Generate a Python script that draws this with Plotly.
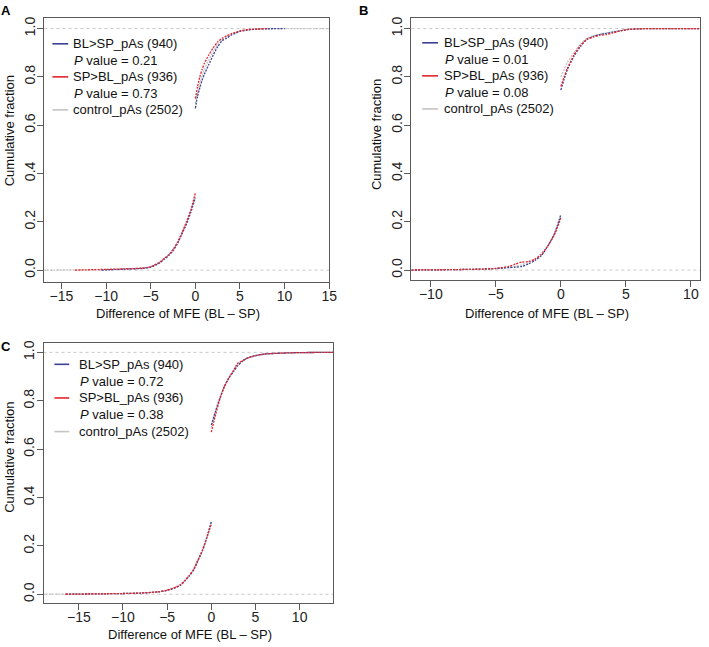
import plotly.graph_objects as go

W, H = 709, 647

# ---------------- DATA ----------------
# Panel A
A_blue_neg_x = [-10.5, -8, -6, -5, -4, -3.5, -3, -2.5, -2, -1.5, -1, -0.5, 0]
A_blue_neg_y = [0.0, 0.004, 0.007, 0.012, 0.03, 0.045, 0.06, 0.08, 0.11, 0.15, 0.19, 0.24, 0.30]
A_red_neg_x = [-13.5, -10, -8, -6, -5, -4, -3.5, -3, -2.5, -2, -1.5, -1, -0.5, 0]
A_red_neg_y = [0.0, 0.003, 0.005, 0.008, 0.014, 0.033, 0.048, 0.063, 0.085, 0.115, 0.155, 0.2, 0.25, 0.32]
A_ctrl_neg_x = [-17, -10, -8, -6, -5, -4, -3, -2, -1, -0.5, 0]
A_ctrl_neg_y = [0.0, 0.002, 0.004, 0.008, 0.013, 0.03, 0.062, 0.115, 0.195, 0.245, 0.31]
A_blue_pos_x = [0, 0.25, 0.5, 0.75, 1, 1.5, 2, 2.5, 3, 3.5, 4, 5, 6, 7, 8, 10]
A_blue_pos_y = [0.67, 0.72, 0.755, 0.785, 0.81, 0.85, 0.89, 0.925, 0.95, 0.96, 0.972, 0.988, 0.995, 0.998, 0.999, 1.0]
A_red_pos_x = [0, 0.25, 0.5, 0.75, 1, 1.5, 2, 2.5, 3, 3.5, 4, 5, 6, 7, 8]
A_red_pos_y = [0.71, 0.76, 0.80, 0.83, 0.855, 0.89, 0.92, 0.945, 0.96, 0.97, 0.978, 0.99, 0.996, 0.998, 1.0]
A_ctrl_pos_x = [0, 0.5, 1, 1.5, 2, 2.5, 3, 4, 5, 6, 8, 15]
A_ctrl_pos_y = [0.69, 0.775, 0.83, 0.87, 0.905, 0.935, 0.955, 0.975, 0.99, 0.996, 0.999, 1.0]

# Panel B
B_blue_neg_x = [-11.5, -8, -6, -5, -4, -3.5, -3, -2.5, -2, -1.5, -1, -0.5, 0]
B_blue_neg_y = [0.0, 0.002, 0.004, 0.006, 0.01, 0.012, 0.015, 0.025, 0.04, 0.06, 0.1, 0.15, 0.23]
B_red_neg_x = [-11.5, -8, -6, -5, -4, -3.5, -3, -2.5, -2, -1.5, -1, -0.5, 0]
B_red_neg_y = [0.0, 0.002, 0.004, 0.007, 0.015, 0.025, 0.033, 0.035, 0.045, 0.065, 0.1, 0.145, 0.215]
B_ctrl_neg_x = [-11.5, -8, -6, -5, -4, -3, -2, -1, -0.5, 0]
B_ctrl_neg_y = [0.0, 0.002, 0.004, 0.007, 0.012, 0.022, 0.045, 0.1, 0.15, 0.22]
B_blue_pos_x = [0, 0.25, 0.5, 1, 1.5, 2, 2.5, 3, 3.5, 4, 5, 6, 8, 11]
B_blue_pos_y = [0.745, 0.79, 0.83, 0.885, 0.925, 0.955, 0.968, 0.975, 0.98, 0.985, 0.995, 0.999, 1.0, 1.0]
B_red_pos_x = [0, 0.25, 0.5, 1, 1.5, 2, 2.5, 3, 3.5, 4, 5, 6, 8, 11]
B_red_pos_y = [0.76, 0.80, 0.835, 0.89, 0.93, 0.955, 0.965, 0.972, 0.975, 0.982, 0.995, 0.999, 1.0, 1.0]
B_ctrl_pos_x = [0, 0.25, 0.5, 1, 1.5, 2, 2.5, 3, 3.5, 4, 5, 6, 8, 11]
B_ctrl_pos_y = [0.80, 0.83, 0.86, 0.90, 0.935, 0.96, 0.97, 0.977, 0.982, 0.987, 0.996, 0.999, 1.0, 1.0]

# Panel C
C_blue_neg_x = [-16.5, -12, -10, -8, -6, -5, -4, -3.5, -3, -2.5, -2, -1.5, -1, -0.5, 0]
C_blue_neg_y = [0.0, 0.002, 0.003, 0.005, 0.01, 0.016, 0.028, 0.037, 0.055, 0.075, 0.1, 0.14, 0.18, 0.235, 0.30]
C_red_neg_x = [-16.5, -12, -10, -8, -6, -5, -4, -3.5, -3, -2.5, -2, -1.5, -1, -0.5, 0]
C_red_neg_y = [0.0, 0.002, 0.003, 0.005, 0.01, 0.017, 0.03, 0.039, 0.057, 0.078, 0.104, 0.143, 0.183, 0.235, 0.29]
C_ctrl_neg_x = [-19.5, -12, -10, -8, -6, -5, -4, -3, -2, -1, -0.5, 0]
C_ctrl_neg_y = [0.0, 0.002, 0.003, 0.005, 0.01, 0.016, 0.029, 0.056, 0.101, 0.182, 0.236, 0.30]
C_blue_pos_x = [0, 0.5, 1, 1.5, 2, 2.5, 3, 3.5, 4, 5, 6, 8, 10, 14]
C_blue_pos_y = [0.70, 0.76, 0.815, 0.86, 0.895, 0.92, 0.945, 0.962, 0.975, 0.987, 0.993, 0.997, 0.999, 1.0]
C_red_pos_x = [0, 0.5, 1, 1.5, 2, 2.5, 3, 3.5, 4, 5, 6, 8, 10, 14]
C_red_pos_y = [0.67, 0.745, 0.81, 0.86, 0.895, 0.925, 0.955, 0.965, 0.975, 0.986, 0.993, 0.997, 0.999, 1.0]
C_ctrl_pos_x = [0, 0.5, 1, 1.5, 2, 2.5, 3, 3.5, 4, 5, 6, 8, 10, 14]
C_ctrl_pos_y = [0.69, 0.755, 0.812, 0.86, 0.895, 0.922, 0.95, 0.963, 0.975, 0.986, 0.993, 0.997, 0.999, 1.0]

series_names = ["BL>SP_pAs (940)", "SP>BL_pAs (936)", "control_pAs (2502)"]
p_values = {"A": ["0.21", "0.73"], "B": ["0.01", "0.08"], "C": ["0.72", "0.38"]}
x_ticks = {"A": [-15, -10, -5, 0, 5, 10, 15], "B": [-10, -5, 0, 5, 10], "C": [-15, -10, -5, 0, 5, 10]}
y_ticks = [0, 0.2, 0.4, 0.6, 0.8, 1.0]
y_ticklabels = ["0.0", "0.2", "0.4", "0.6", "0.8", "1.0"]

# ---------------- STYLE ----------------
BLUE = "#3b4296"
RED = "#e3262b"
GRAY = "#c4c4c4"
FRAME = "#5a5a5a"
FONT = "Liberation Sans, Arial, Helvetica, sans-serif"
DOT = "2px,1.2px"
TICK_FS = 14
LEG_FS = 13
TITLE_FS = 13

def px_x(p):
    return p / W

def px_y(p):
    return 1 - p / H

panels = {
    # key: (x axis name, y axis name, box px (l, r, t, b), x range, y range)
    "A": ("x", "y", (45, 333, 15, 280), [-16.9, 15.0], [-0.048, 1.044]),
    "B": ("x2", "y2", (416, 708, 15, 278), [-11.5, 10.7], [-0.04, 1.044]),
    "C": ("x3", "y3", (44, 337, 342, 603), [-19.0, 13.8], [-0.037, 1.037]),
}

data = {
    "A": [(A_ctrl_neg_x, A_ctrl_neg_y, A_ctrl_pos_x, A_ctrl_pos_y, GRAY),
          (A_blue_neg_x, A_blue_neg_y, A_blue_pos_x, A_blue_pos_y, BLUE),
          (A_red_neg_x, A_red_neg_y, A_red_pos_x, A_red_pos_y, RED)],
    "B": [(B_ctrl_neg_x, B_ctrl_neg_y, B_ctrl_pos_x, B_ctrl_pos_y, GRAY),
          (B_blue_neg_x, B_blue_neg_y, B_blue_pos_x, B_blue_pos_y, BLUE),
          (B_red_neg_x, B_red_neg_y, B_red_pos_x, B_red_pos_y, RED)],
    "C": [(C_ctrl_neg_x, C_ctrl_neg_y, C_ctrl_pos_x, C_ctrl_pos_y, GRAY),
          (C_blue_neg_x, C_blue_neg_y, C_blue_pos_x, C_blue_pos_y, BLUE),
          (C_red_neg_x, C_red_neg_y, C_red_pos_x, C_red_pos_y, RED)],
}

fig = go.Figure()
layout_axes = {}
shapes = []
annotations = []

for key, (xa, ya, (l, r, t, b), xr, yr) in panels.items():
    xkey = "xaxis" + xa[1:]
    ykey = "yaxis" + ya[1:]
    common = dict(showline=True, mirror=True, linecolor=FRAME, linewidth=1,
                  ticks="outside", ticklen=6, tickcolor=FRAME, tickwidth=1,
                  showgrid=False, zeroline=False,
                  tickfont=dict(family=FONT, size=TICK_FS, color="#222"))
    layout_axes[xkey] = dict(common, domain=[px_x(l), px_x(r)], range=xr,
                             tickvals=x_ticks[key], anchor=ya, ticklabelstandoff=-5)
    layout_axes[ykey] = dict(common, domain=[px_y(b), px_y(t)], range=yr,
                             tickvals=y_ticks, ticktext=y_ticklabels,
                             tickangle=-90, anchor=xa, ticklabelstandoff=-3)
    # dashed 0 and 1 reference lines (gray70, lty 2)
    for yv in (0, 1):
        shapes.append(dict(type="line", xref=f"{xa} domain", yref=ya,
                           x0=0, x1=1, y0=yv, y1=yv,
                           line=dict(color="#c8c8c8", width=1, dash="3px,3px"), layer="below"))
    for nx, ny, qx, qy, col in data[key]:
        for xs, ys in ((nx, ny), (qx, qy)):
            fig.add_trace(go.Scatter(x=xs, y=ys, mode="lines", xaxis=xa, yaxis=ya,
                                     line=dict(color=col, width=1.3, dash=DOT, shape="spline", smoothing=0.6),
                                     showlegend=False, hoverinfo="skip", cliponaxis=True))

# legends inside panels: (line x0, line x1, text x, first row y, row step) in px
legend_px = {
    "A": (53, 69, 72, 41, 16.6),
    "B": (427, 443, 447, 40, 16.6),
    "C": (55, 70, 78, 363, 16.9),
}
for key, (lx0, lx1, tx, y0, step) in legend_px.items():
    rows = [("line", series_names[0], BLUE),
            ("text", f"<i>P</i> value = {p_values[key][0]}", None),
            ("line", series_names[1], RED),
            ("text", f"<i>P</i> value = {p_values[key][1]}", None),
            ("line", series_names[2], GRAY)]
    for i, (kind, label, col) in enumerate(rows):
        yy = y0 + i * step
        if kind == "line":
            shapes.append(dict(type="line", xref="paper", yref="paper",
                               x0=px_x(lx0), x1=px_x(lx1), y0=px_y(yy), y1=px_y(yy),
                               line=dict(color=col, width=1.6)))
        annotations.append(dict(text=label, xref="paper", yref="paper",
                                x=px_x(tx + (1 if kind == "text" else 0)), y=px_y(yy),
                                xanchor="left", yanchor="middle", showarrow=False,
                                font=dict(family=FONT, size=LEG_FS, color="#111")))

# axis titles and panel letters
xtitle = "Difference of MFE (BL \u2013 SP)"
for cx, cy in [(180, 312), (553, 312), (192, 634)]:
    annotations.append(dict(text=xtitle, xref="paper", yref="paper", x=px_x(cx), y=px_y(cy),
                            xanchor="center", yanchor="middle", showarrow=False,
                            font=dict(family=FONT, size=TITLE_FS, color="#111")))
for cx, cy in [(10, 128), (381, 132), (10, 456)]:
    annotations.append(dict(text="Cumulative fraction", xref="paper", yref="paper",
                            x=px_x(cx), y=px_y(cy), textangle=-90,
                            xanchor="center", yanchor="middle", showarrow=False,
                            font=dict(family=FONT, size=TITLE_FS, color="#111")))
for lab, cx, cy in [("A", 6, 8), ("B", 368, 8), ("C", 6, 345)]:
    annotations.append(dict(text=f"<b>{lab}</b>", xref="paper", yref="paper",
                            x=px_x(cx), y=px_y(cy), xanchor="center", yanchor="middle",
                            showarrow=False, font=dict(family=FONT, size=13, color="#000")))

fig.update_layout(width=W, height=H, margin=dict(l=0, r=0, t=0, b=0),
                  paper_bgcolor="white", plot_bgcolor="white",
                  showlegend=False, shapes=shapes, annotations=annotations,
                  **layout_axes)

fig.write_html("out.html", config={"displayModeBar": False},
               post_script="document.body.style.margin='0px';document.body.style.overflow='hidden';")
